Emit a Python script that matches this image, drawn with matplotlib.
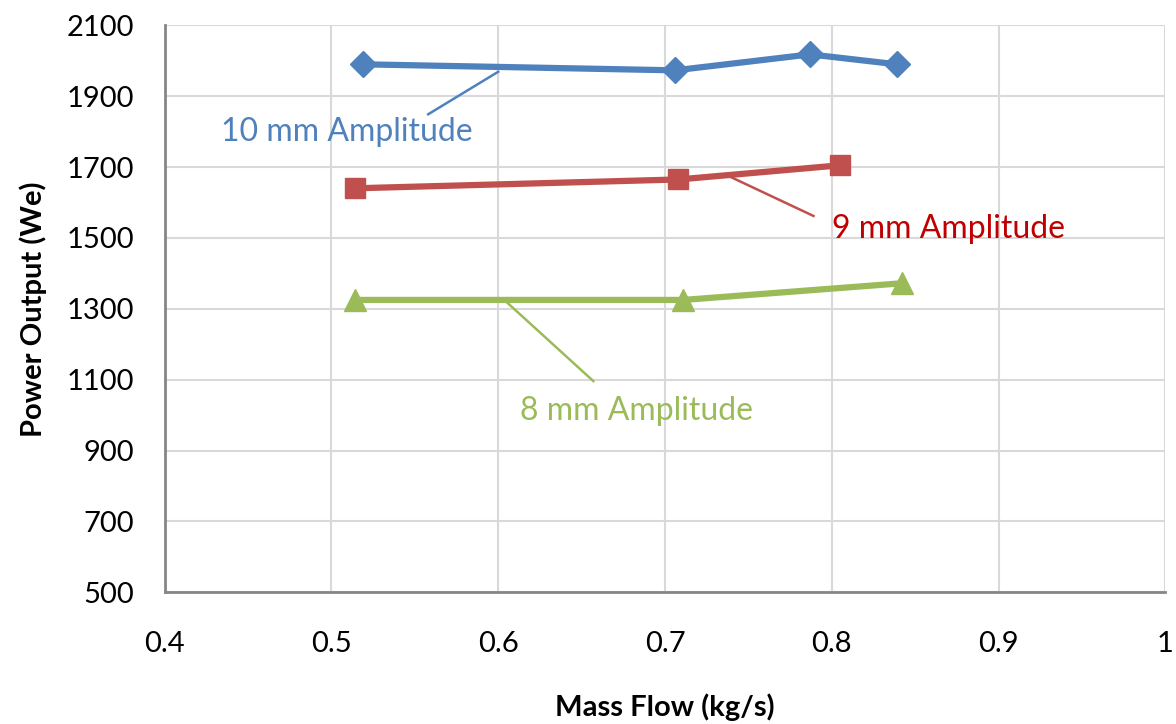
import matplotlib.pyplot as plt

# values
flow_10mm = [0.519, 0.706, 0.787, 0.839]
power_10mm = [1990, 1973, 2018, 1990]

flow_9mm = [0.514, 0.708, 0.805]
power_9mm = [1640, 1665, 1705]

flow_8mm = [0.514, 0.711, 0.842]
power_8mm = [1325, 1325, 1372]

x_ticks = [0.4, 0.5, 0.6, 0.7, 0.8, 0.9, 1.0]
x_tick_labels = ["0.4", "0.5", "0.6", "0.7", "0.8", "0.9", "1"]
y_ticks = [500, 700, 900, 1100, 1300, 1500, 1700, 1900, 2100]

blue = "#4F81BD"
red = "#C0504D"
green = "#9BBB59"

plt.rcParams["font.family"] = ["Lato", "DejaVu Sans"]

fig = plt.figure(figsize=(11.76, 7.24), dpi=100)
ax = fig.add_axes([0.140, 0.182, 0.851, 0.783])

ax.plot(flow_10mm, power_10mm, color=blue, lw=4.5, marker="D", ms=13, zorder=3)
ax.plot(flow_9mm, power_9mm, color=red, lw=4.5, marker="s", ms=15, zorder=3)
ax.plot(flow_8mm, power_8mm, color=green, lw=4.5, marker="^", ms=16, zorder=3)

# series labels with leader lines
ax.plot([0.558, 0.600], [1849, 1969], color=blue, lw=1.8, zorder=2)
ax.text(0.509, 1798, "10 mm Amplitude", color=blue, fontsize=23,
        ha="center", va="center")

ax.plot([0.738, 0.789], [1675, 1562], color=red, lw=1.8, zorder=2)
ax.text(0.870, 1526, "9 mm Amplitude", color="#C00000", fontsize=23,
        ha="center", va="center")

ax.plot([0.605, 0.657], [1319, 1096], color=green, lw=1.8, zorder=2)
ax.text(0.683, 1011, "8 mm Amplitude", color=green, fontsize=23,
        ha="center", va="center")

ax.set_xlim(0.4, 1.0)
ax.set_ylim(500, 2100)
ax.set_xticks(x_ticks)
ax.set_xticklabels(x_tick_labels)
ax.set_yticks(y_ticks)
ax.tick_params(length=0, labelsize=21)
ax.tick_params(axis="x", pad=28)
ax.tick_params(axis="y", pad=22)

ax.grid(True, color="#D9D9D9", lw=1.5)
ax.set_axisbelow(True)
for side in ["top", "right"]:
    ax.spines[side].set_visible(False)
for side in ["left", "bottom"]:
    ax.spines[side].set_color("#868686")
    ax.spines[side].set_linewidth(2)

ax.set_xlabel("Mass Flow (kg/s)", fontsize=21, fontweight="bold", labelpad=26)
ax.set_ylabel("Power Output (We)", fontsize=21, fontweight="bold", labelpad=14)

fig.savefig("out.png", dpi=100)
